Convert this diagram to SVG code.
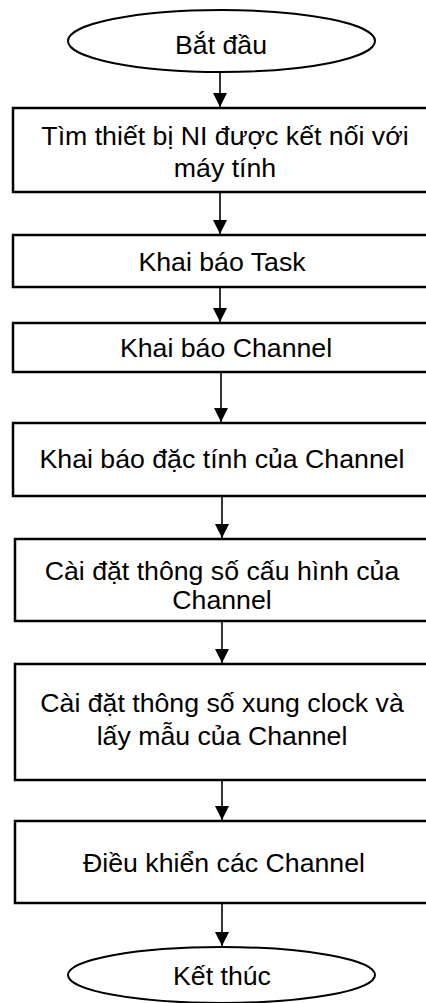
<svg xmlns="http://www.w3.org/2000/svg" width="426" height="1003" viewBox="0 0 426 1003">
  <style>
    .box { fill: #ffffff; stroke: #000000; stroke-width: 2.5; }
    .term { fill: #ffffff; stroke: #000000; stroke-width: 2; }
    .lbl { font-family: "Liberation Sans", Arial, sans-serif; font-size: 26.7px; fill: #000000; text-anchor: middle; }
    .edge { stroke: #000000; stroke-width: 1.6; fill: none; marker-end: url(#head); }
  </style>
  <defs>
    <marker id="head" markerUnits="userSpaceOnUse" markerWidth="15" markerHeight="16" refX="14" refY="7" orient="auto">
      <path d="M0,0 L14,7 L0,14 Z" fill="#000000"/>
    </marker>
  </defs>
  <rect x="0" y="0" width="426" height="1003" fill="#ffffff"/>

  <!-- flow arrows -->
  <g id="connectors">
    <line class="edge" x1="220" y1="72" x2="220" y2="107"/>
    <line class="edge" x1="220" y1="192" x2="220" y2="234"/>
    <line class="edge" x1="220" y1="287" x2="220" y2="322"/>
    <line class="edge" x1="221" y1="372" x2="221" y2="422"/>
    <line class="edge" x1="222" y1="496" x2="222" y2="538"/>
    <line class="edge" x1="222" y1="621" x2="222" y2="663"/>
    <line class="edge" x1="222" y1="780" x2="222" y2="820"/>
    <line class="edge" x1="222" y1="903" x2="222" y2="946"/>
  </g>

  <g id="start">
    <ellipse class="term" cx="221.5" cy="41" rx="153.5" ry="31"/>
    <text class="lbl" x="221" y="54">Bắt đầu</text>
  </g>

  <!-- process boxes run past the right edge of the sheet -->
  <g id="find-device">
    <rect class="box" x="13" y="108" width="415" height="84"/>
    <text class="lbl" x="225" y="145">Tìm thiết bị NI được kết nối với</text>
    <text class="lbl" x="225" y="177">máy tính</text>
  </g>

  <g id="declare-task">
    <rect class="box" x="13" y="235" width="415" height="52"/>
    <text class="lbl" x="222" y="271">Khai báo Task</text>
  </g>

  <g id="declare-channel">
    <rect class="box" x="13" y="323" width="415" height="49"/>
    <text class="lbl" x="226" y="357">Khai báo Channel</text>
  </g>

  <g id="channel-properties">
    <rect class="box" x="13" y="423" width="415" height="73"/>
    <text class="lbl" x="222" y="468">Khai báo đặc tính của Channel</text>
  </g>

  <g id="channel-config">
    <rect class="box" x="15" y="539" width="413" height="82"/>
    <text class="lbl" x="222" y="580">Cài đặt thông số cấu hình của</text>
    <text class="lbl" x="222" y="609">Channel</text>
  </g>

  <g id="clock-sampling">
    <rect class="box" x="15" y="664" width="413" height="116"/>
    <text class="lbl" x="222" y="712">Cài đặt thông số xung clock và</text>
    <text class="lbl" x="222" y="745">lấy mẫu của Channel</text>
  </g>

  <g id="control-channels">
    <rect class="box" x="15" y="821" width="413" height="82"/>
    <text class="lbl" x="224" y="872">Điều khiển các Channel</text>
  </g>

  <g id="end">
    <ellipse class="term" cx="221.5" cy="975" rx="153.5" ry="28"/>
    <text class="lbl" x="222" y="985">Kết thúc</text>
  </g>
</svg>
